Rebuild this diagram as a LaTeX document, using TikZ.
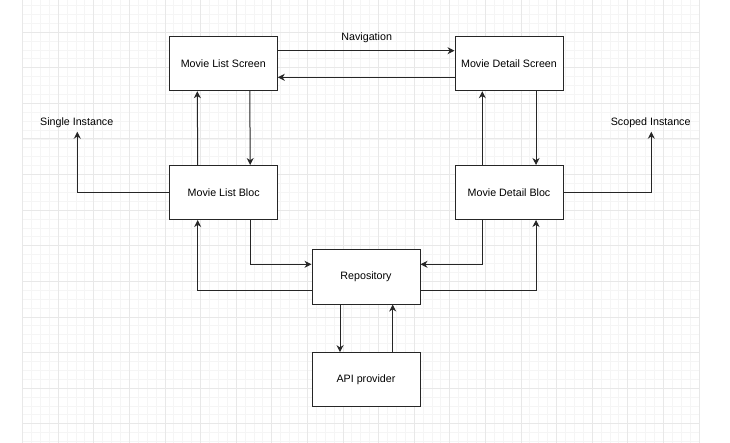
\documentclass[tikz,border=0pt]{standalone}
\usepackage{fontspec}
\setmainfont{Liberation Sans}
\usetikzlibrary{arrows.meta}
\begin{document}
\begin{tikzpicture}[x=1pt,y=-1pt,
  box/.style={draw=black!85, line width=1pt, fill=white, minimum width=108pt, minimum height=54pt, inner sep=0pt, font=\fontsize{10.7}{12}\selectfont},
  lbl/.style={inner sep=1pt, font=\fontsize{10.7}{12}\selectfont},
  link/.style={draw=black!85, line width=1pt, -{Stealth[length=7pt,width=7pt,inset=2.2pt]}},
  wire/.style={draw=black!85, line width=1pt}]
  % page and background grid
  \useasboundingbox (0,0) rectangle (730,443);
  \fill[white] (0,0) rectangle (730,443);
  \foreach \i in {0,...,76}
    \draw[line width=0.5pt, black!4] ({22.4+8.9*\i},0) -- ({22.4+8.9*\i},443);
  \foreach \i in {1,...,50}
    \draw[line width=0.5pt, black!4] (22.4,{-3.6+8.9*\i}) -- (698.8,{-3.6+8.9*\i});
  \foreach \i in {0,...,19}
    \draw[line width=0.6pt, black!9] ({22.4+35.6*\i},0) -- ({22.4+35.6*\i},443);
  \foreach \i in {1,...,12}
    \draw[line width=0.6pt, black!9] (22.4,{-3.6+35.6*\i}) -- (698.8,{-3.6+35.6*\i});

  % blocks
  \node[box] (mls) at (223.3,63.7) {Movie List Screen};
  \node[box] (mds) at (509,63.7) {Movie Detail Screen};
  \node[box] (mlb) at (223.7,192.5) {Movie List Bloc};
  \node[box] (mdb) at (509,192.5) {Movie Detail Bloc};
  \node[box] (repo) at (366,277) {Repository};
  \node[box] (api) at (366,379.7) {API provider};

  % free labels
  \node[lbl] (nav) at (366.7,37.3) {Navigation};
  \node[lbl] (single) at (76.7,122.3) {Single Instance};
  \node[lbl] (scoped) at (650.7,122.3) {Scoped Instance};
  \coordinate (singletip) at (77.3,131.7);
  \coordinate (scopedtip) at (651.3,131.7);

  % screen navigation
  \draw[link] (mls.east |- 0,50.7) -- (mds.west |- 0,50.7);
  \draw[link] (mds.west |- 0,77.3) -- (mls.east |- 0,77.3);

  % screens and blocs
  \draw[link] ([xshift=-26pt]mlb.north) -- ([xshift=-26pt]mls.south);
  \draw[link] ([xshift=26.5pt]mls.south) -- ([xshift=26.5pt]mlb.north);
  \draw[link] ([xshift=-26.7pt]mdb.north) -- ([xshift=-26.7pt]mds.south);
  \draw[link] ([xshift=27pt]mds.south) -- ([xshift=27pt]mdb.north);

  % instance scopes
  \draw[link] (mlb.west) -| (singletip);
  \draw[link] (mdb.east) -| (scopedtip);

  % blocs and repository
  \draw[link] ([xshift=26.5pt]mlb.south) |- (repo.west |- 0,264.3);
  \draw[link] (repo.west |- 0,291) -| ([xshift=-26pt]mlb.south);
  \draw[link] ([xshift=-26.7pt]mdb.south) |- (repo.east |- 0,264.3);
  \draw[link] (repo.east |- 0,291) -| ([xshift=27pt]mdb.south);

  % repository and api
  \draw[link] ([xshift=-26pt]repo.south) -- ([xshift=-26pt]api.north);
  \draw[link] ([xshift=26.7pt]api.north) -- ([xshift=26.7pt]repo.south);
\end{tikzpicture}
\end{document}
